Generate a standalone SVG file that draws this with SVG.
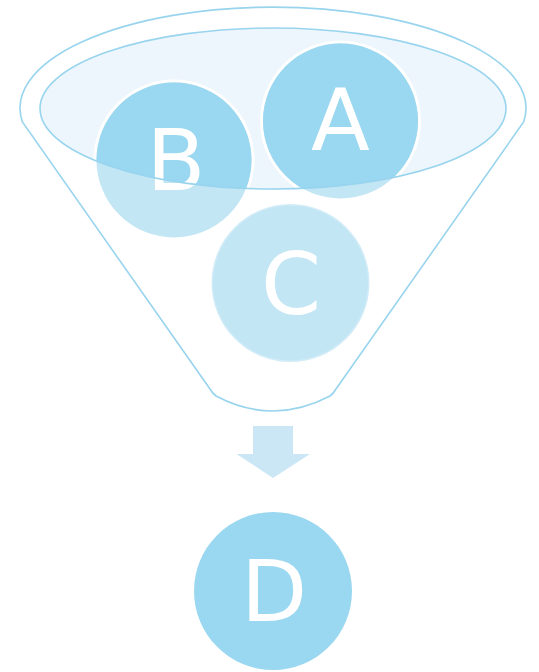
<svg xmlns="http://www.w3.org/2000/svg" width="539" height="672" viewBox="0 0 539 672">
<style>
.line{fill:none;stroke:#98D4EE;stroke-width:1.6}
.lbl{font-family:"DejaVu Sans",Verdana,sans-serif;font-size:86px;fill:#FFFFFF;text-anchor:middle}
.light{fill:#C3E6F5;stroke:#FFFFFF;stroke-width:3}
.dark{fill:#9AD7F0}
</style>
<defs>
<clipPath id="mouth"><ellipse cx="273" cy="108.5" rx="233" ry="80.5"/></clipPath>
</defs>
<g id="funnel">
<path class="line" d="M22.4,122 A253,101 0 1 1 523.6,122 L336,389 Q333.5,393.5 330,396 Q273,426 216,396 Q212.5,393.5 210,389 Z" fill="#FFFFFF"/>
<ellipse cx="273" cy="108.5" rx="233" ry="80.5" fill="#EDF6FC"/>
</g>
<g id="node-A">
<circle class="light" cx="340.5" cy="121" r="79"/>
<circle class="dark" cx="340.5" cy="121" r="77.5" clip-path="url(#mouth)"/>
<text class="lbl" x="340.5" y="150">A</text>
</g>
<g id="node-B">
<circle class="light" cx="174" cy="160" r="79"/>
<circle class="dark" cx="174" cy="160" r="77.5" clip-path="url(#mouth)"/>
<text class="lbl" x="176" y="190">B</text>
</g>
<g id="node-C">
<circle class="light" cx="290.5" cy="283" r="79" stroke-opacity="0.25"/>
<text class="lbl" x="291" y="314">C</text>
</g>
<g id="funnel-rim">
<ellipse class="line" cx="273" cy="108.5" rx="233" ry="80.5"/>
</g>
<g id="connectors">
<polygon points="253,426 293,426 293,454 310,454 273,478 236.5,454 253,454" fill="#CBE7F5"/>
</g>
<g id="node-D">
<circle class="dark" cx="273" cy="591" r="79"/>
<text class="lbl" x="274" y="621">D</text>
</g>
</svg>
